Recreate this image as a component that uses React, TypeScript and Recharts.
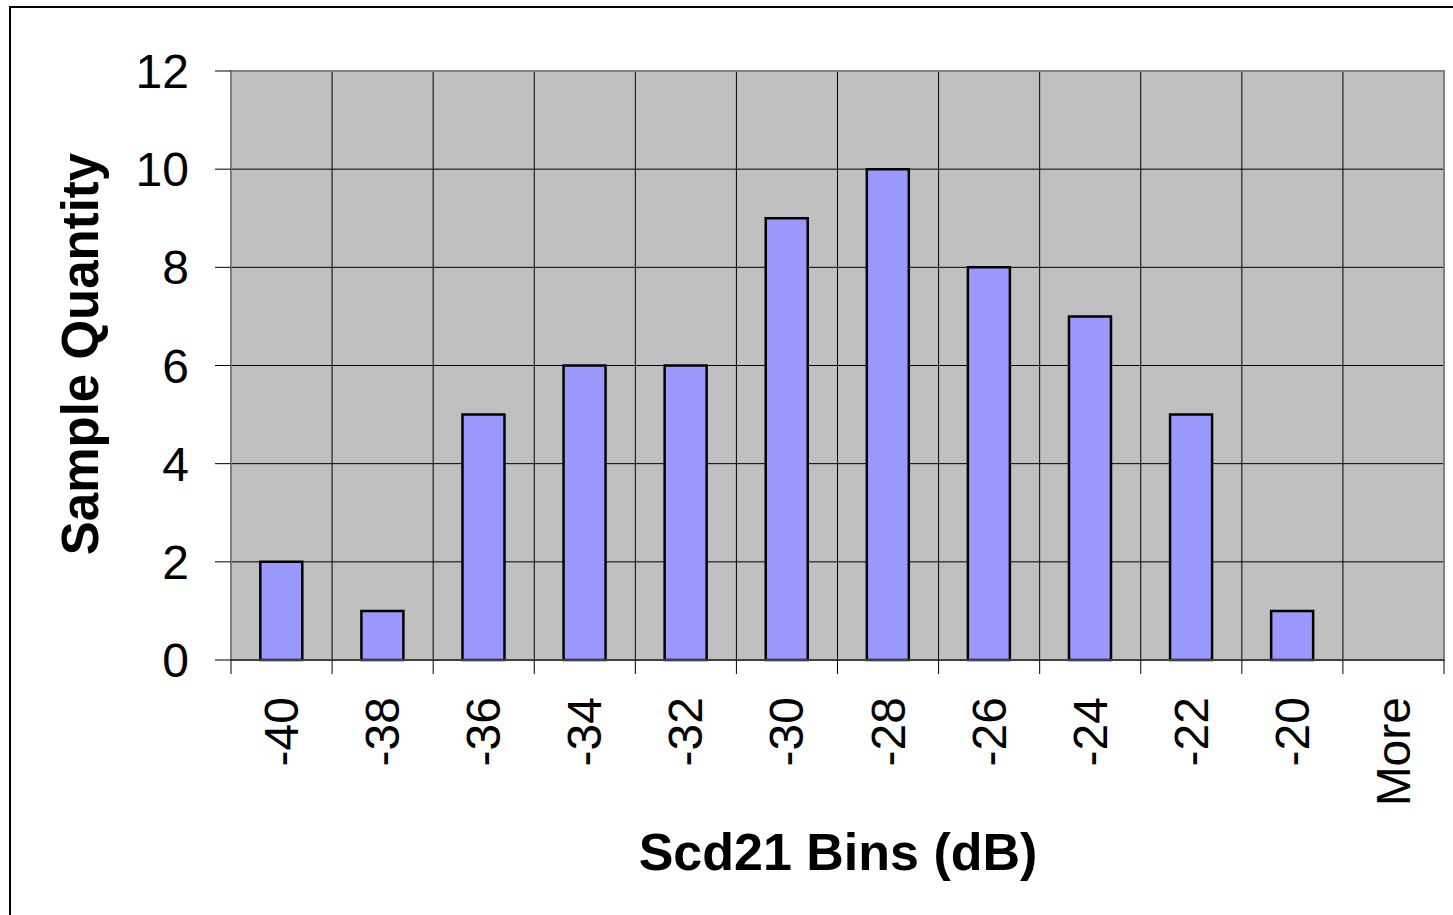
import { BarChart, Bar, XAxis, YAxis, CartesianGrid, ReferenceArea } from 'recharts'

const bins = ['-40', '-38', '-36', '-34', '-32', '-30', '-28', '-26', '-24', '-22', '-20', 'More']
const counts = [2, 1, 5, 6, 6, 9, 10, 8, 7, 5, 1, 0]
const yTicks = [0, 2, 4, 6, 8, 10, 12]

const data = bins.map((bin, i) => ({ bin, count: counts[i] }))

const FONT = '"Liberation Sans", Arial, sans-serif'
const LABEL_GAP = 37
const TICK_LEN = 14

// rotated bin label plus a tick mark on the left edge of each bin (and right edge of the last)
const BinTick = (props: any) => {
  const { x, y, payload, index, visibleTicksCount } = props
  const half = payload.offset || 0
  const axisY = y - LABEL_GAP
  return (
    <g>
      <line x1={x - half} x2={x - half} y1={axisY} y2={axisY + TICK_LEN} stroke="#000" />
      {index === visibleTicksCount - 1 && (
        <line x1={x + half} x2={x + half} y1={axisY} y2={axisY + TICK_LEN} stroke="#000" />
      )}
      <text
        x={x}
        y={y}
        transform={`rotate(-90 ${x} ${y})`}
        textAnchor="end"
        dominantBaseline="central"
        fontFamily={FONT}
        fontSize={48}
        fill="#000"
      >
        {payload.value}
      </text>
    </g>
  )
}

const binEdgeLines = ({ offset }: any) =>
  [...bins, ''].map((_, i) => offset.left + (i * offset.width) / bins.length)

const YTitle = () => (
  <text
    x={80}
    y={354}
    transform="rotate(-90 80 354)"
    textAnchor="middle"
    dominantBaseline="central"
    fontFamily={FONT}
    fontSize={51}
    fontWeight="bold"
    fill="#000"
  >
    Sample Quantity
  </text>
)

const XTitle = () => (
  <text
    x={838}
    y={852}
    textAnchor="middle"
    dominantBaseline="central"
    fontFamily={FONT}
    fontSize={52}
    fontWeight="bold"
    fill="#000"
  >
    Scd21 Bins (dB)
  </text>
)

export default function App() {
  return (
    <div style={{ position: 'absolute', left: 0, top: 0, width: 1453, height: 915, overflow: 'hidden', background: '#fff' }}>
      <div style={{ position: 'absolute', left: 9, top: 6, width: 1460, height: 920, border: '2px solid #000' }} />
      <div style={{ position: 'absolute', left: 0, top: 0 }}>
        <BarChart
          width={1453}
          height={915}
          data={data}
          margin={{ top: 71, right: 9, left: 0, bottom: 0 }}
          barCategoryGap="29%"
        >
          <CartesianGrid
            fill="#C0C0C0"
            stroke="#000"
            strokeOpacity={1}
            verticalCoordinatesGenerator={binEdgeLines}
          />
          <XAxis
            dataKey="bin"
            height={255}
            interval={0}
            axisLine={{ stroke: '#404040', strokeWidth: 2 }}
            tickLine={false}
            tickSize={0}
            tickMargin={LABEL_GAP}
            tick={<BinTick />}
            label={<XTitle />}
          />
          <YAxis
            width={231}
            domain={[0, 12]}
            ticks={yTicks}
            interval={0}
            axisLine={false}
            tickLine={{ stroke: '#000' }}
            tickSize={16}
            tickMargin={26}
            tick={{ fontFamily: FONT, fontSize: 48, fill: '#000' }}
            label={<YTitle />}
          />
          <ReferenceArea
            x1={bins[0]}
            x2={bins[bins.length - 1]}
            y1={0}
            y2={12}
            fill="none"
            stroke="#808080"
            strokeWidth={2}
          />
          <Bar dataKey="count" fill="#9999FF" stroke="#000" strokeWidth={2.5} isAnimationActive={false} />
        </BarChart>
      </div>
    </div>
  )
}
